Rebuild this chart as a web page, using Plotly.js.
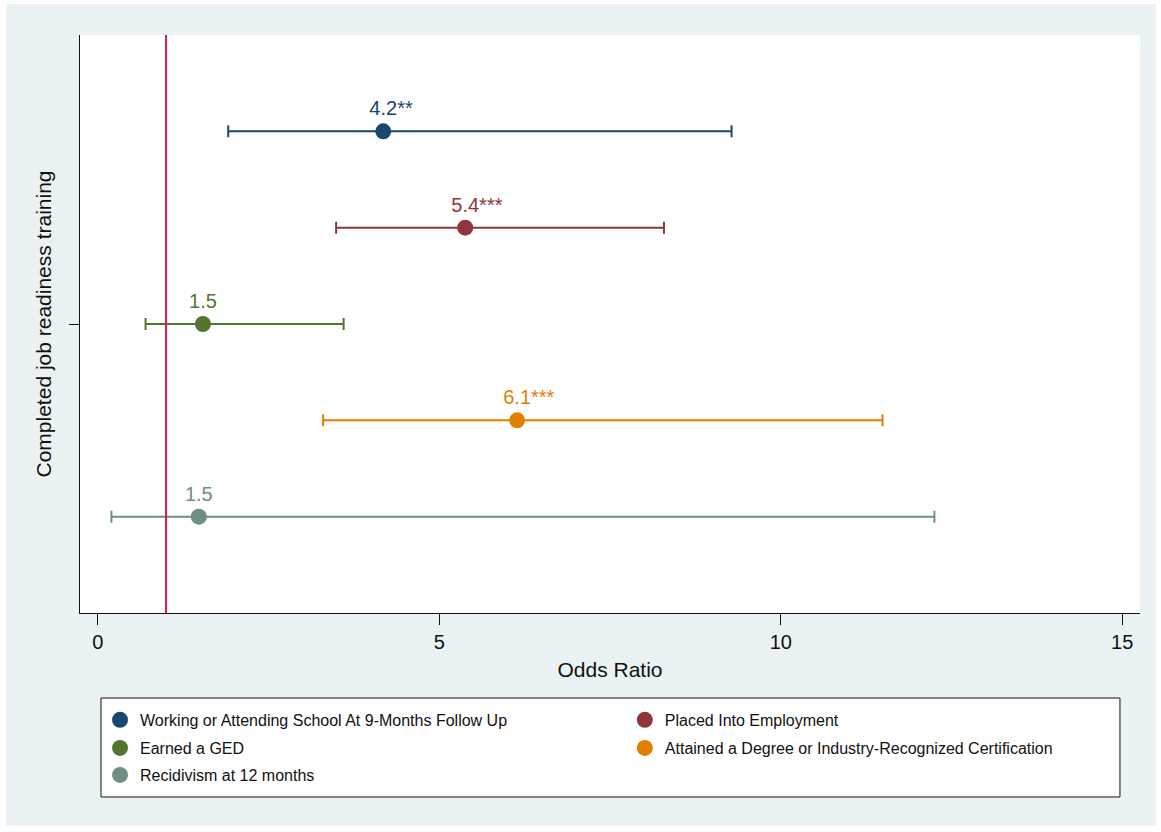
<!DOCTYPE html>
<html>
<head>
<meta charset="utf-8">
<script src="https://cdn.plot.ly/plotly-3.0.1.min.js"></script>
<style>
  html, body { margin: 0; padding: 0; background: #ffffff; }
  #chart { position: absolute; left: 6px; top: 4px; width: 1150px; height: 822px; }
</style>
</head>
<body>
<div id="chart"></div>
<script>
// ---- data ----
const outcomes = [
  "Working or Attending School At 9-Months Follow Up",
  "Placed Into Employment",
  "Earned a GED",
  "Attained a Degree or Industry-Recognized Certification",
  "Recidivism at 12 months"
];
const oddsRatio = [4.18, 5.38, 1.54, 6.14, 1.48];
const ciLow     = [1.91, 3.49, 0.70, 3.30, 0.20];
const ciHigh    = [9.28, 8.29, 3.60, 11.49, 12.25];
const valueLabels = ["4.2", "5.4", "1.5", "6.1", "1.5"];
const stars       = ["**", "***", "", "***", ""];
const referenceOR = 1;
const xTickVals = [0, 5, 10, 15];
const yCategory = "Completed job readiness training";

// ---- styles ----
const colors = ["#1a476f", "#90353b", "#55752f", "#e37e00", "#6e8e84"];
const FONT = "Liberation Sans, Arial, Helvetica, sans-serif";
const legendColX = [0.0189, 0.514];
const legendRowY = [-0.185, -0.2336, -0.2803];

const n = outcomes.length;
const traces = [];
const layoutLegends = {};
outcomes.forEach((name, i) => {
  const yPos = (n - 1) / 2 - i;
  const legendId = i === 0 ? "legend" : "legend" + (i + 1);
  const hidden = stars[i] ? '<span style="fill:rgba(0,0,0,0)">' + stars[i] + '</span>' : '';
  traces.push({
    type: "scatter",
    mode: "markers+text",
    name: name,
    x: [oddsRatio[i]],
    y: [yPos],
    text: [hidden + valueLabels[i] + stars[i]],
    textposition: "top center",
    textfont: { family: FONT, size: 20, color: colors[i] },
    marker: { color: colors[i], size: 16 },
    error_x: {
      type: "data",
      symmetric: false,
      array: [ciHigh[i] - oddsRatio[i]],
      arrayminus: [oddsRatio[i] - ciLow[i]],
      color: colors[i],
      thickness: 2,
      width: 6
    },
    legend: legendId,
    hoverinfo: "x+name"
  });
  layoutLegends[legendId] = {
    orientation: "h",
    x: legendColX[i % 2],
    xanchor: "left",
    y: legendRowY[Math.floor(i / 2)],
    yanchor: "middle",
    bgcolor: "rgba(0,0,0,0)",
    borderwidth: 0,
    font: { family: FONT, size: 16, color: "#111" }
  };
});

const layout = Object.assign({
  width: 1150,
  height: 822,
  margin: { l: 74, r: 16, t: 31, b: 213 },
  paper_bgcolor: "#eaf2f3",
  plot_bgcolor: "#ffffff",
  font: { family: FONT, color: "#111" },
  showlegend: true,
  xaxis: {
    range: [-0.26, 15.26],
    tickvals: xTickVals,
    ticks: "outside",
    ticklen: 11,
    tickwidth: 1,
    tickcolor: "#111",
    tickfont: { family: FONT, size: 20, color: "#111" },
    showline: true,
    linecolor: "#111",
    linewidth: 1,
    showgrid: false,
    zeroline: false,
    title: { text: "Odds Ratio", font: { family: FONT, size: 21, color: "#111" }, standoff: 10 }
  },
  yaxis: {
    range: [-3, 3],
    tickvals: [0],
    ticktext: [""],
    ticks: "outside",
    ticklen: 10,
    tickwidth: 1,
    tickcolor: "#111",
    showline: true,
    linecolor: "#111",
    linewidth: 1,
    showgrid: false,
    zeroline: false,
    title: { text: yCategory, font: { family: FONT, size: 21, color: "#111" }, standoff: 9 }
  },
  shapes: [
    {
      type: "line", xref: "x", yref: "paper",
      x0: referenceOR, x1: referenceOR, y0: 0, y1: 1,
      line: { color: "#d81b46", width: 2 }
    },
    {
      type: "rect", xref: "paper", yref: "paper", layer: "below",
      x0: 0.0198, x1: 0.9811, y0: -0.3183, y1: -0.1471,
      fillcolor: "#ffffff",
      line: { color: "#111", width: 1 }
    }
  ]
}, layoutLegends);

Plotly.newPlot("chart", traces, layout, { displayModeBar: false, responsive: false });
</script>
</body>
</html>
